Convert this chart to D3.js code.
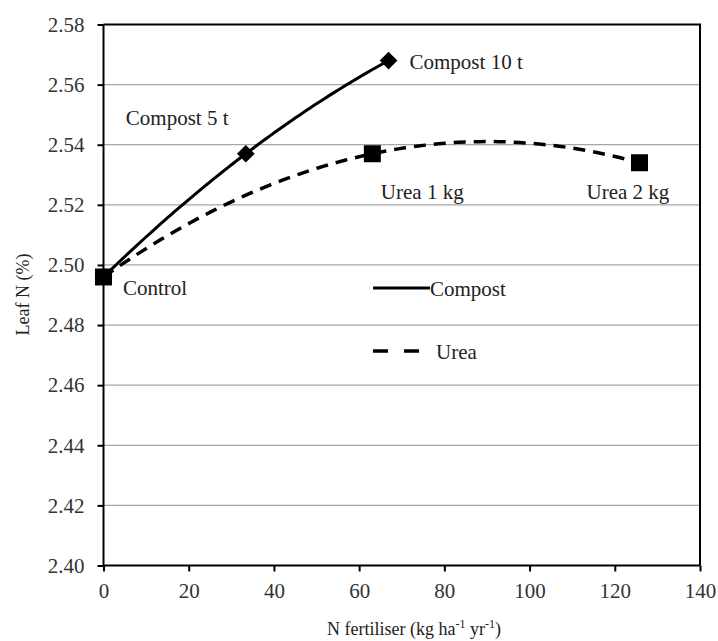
<!DOCTYPE html>
<html>
<head>
<meta charset="utf-8">
<script src="https://cdn.jsdelivr.net/npm/d3@7"></script>
<style>
  body { margin: 0; background: #fff; }
</style>
</head>
<body>
<div id="chart"></div>
<script>
// values
const compostN = [0, 33.4, 66.9];
const compostLeafN = [2.496, 2.537, 2.568];
const ureaN = [0, 63.1, 125.8];
const ureaLeafN = [2.496, 2.537, 2.534];

const compostLabels = ["", "Compost 5 t", "Compost 10 t"];
const ureaLabels = ["Control", "Urea 1 kg", "Urea 2 kg"];

const xTicks = [0, 20, 40, 60, 80, 100, 120, 140];
const yTicks = [2.40, 2.42, 2.44, 2.46, 2.48, 2.50, 2.52, 2.54, 2.56, 2.58];
const legendNames = ["Compost", "Urea"];

// label offsets from their point (px)
const compostLabelOffset = [null, [-120, -29], [21, 8]];
const ureaLabelOffset = [[19.5, 18.5], [8.5, 45], [-53, 36]];

const serif = "'Liberation Serif', 'Times New Roman', 'DejaVu Serif', serif";

const width = 718, height = 641;
const plot = { left: 103.5, right: 700, top: 24.5, bottom: 565.5 };

const svg = d3.select("#chart").append("svg")
  .attr("width", width)
  .attr("height", height)
  .attr("font-family", serif);

const x = d3.scaleLinear().domain([0, 140]).range([plot.left, plot.right]);
const y = d3.scaleLinear().domain([2.40, 2.58]).range([plot.bottom, plot.top]);

// gridlines
svg.append("g")
  .selectAll("line")
  .data(yTicks.slice(1, -1))
  .join("line")
  .attr("x1", plot.left).attr("x2", plot.right)
  .attr("y1", d => y(d)).attr("y2", d => y(d))
  .attr("stroke", "#a6a6a6")
  .attr("stroke-width", 1.2);

// plot border (top, right)
svg.append("path")
  .attr("d", `M${plot.left},${plot.top}H${plot.right}V${plot.bottom}`)
  .attr("fill", "none")
  .attr("stroke", "#000")
  .attr("stroke-width", 2);

const xAxis = d3.axisBottom(x).tickValues(xTicks).tickSize(6).tickPadding(12).tickFormat(d3.format("d"));
const yAxis = d3.axisLeft(y).tickValues(yTicks).tickSize(6).tickPadding(13).tickFormat(d3.format(".2f"));

function styleAxis(g) {
  g.attr("font-family", serif).attr("font-size", 21);
  g.selectAll(".tick line").attr("stroke-width", 2).attr("stroke", "#000");
  g.selectAll("text").style("font-family", serif).attr("fill", "#333");
}

svg.append("g")
  .attr("transform", `translate(0,${plot.bottom})`)
  .call(xAxis)
  .call(g => g.select(".domain").attr("stroke-width", 2).attr("stroke", "#000").attr("d", `M${plot.left},0H${plot.right}`))
  .call(styleAxis);

svg.append("g")
  .attr("transform", `translate(${plot.left},0)`)
  .call(yAxis)
  .call(g => g.select(".domain").attr("stroke-width", 2).attr("stroke", "#000").attr("d", `M0,${plot.top}V${plot.bottom}`))
  .call(styleAxis);

// axis titles
const xTitle = svg.append("text")
  .attr("x", 414).attr("y", 635)
  .attr("text-anchor", "middle")
  .attr("font-size", 18)
  .attr("fill", "#222")
  .style("font-family", serif);
xTitle.append("tspan").text("N fertiliser (kg ha");
xTitle.append("tspan").attr("font-size", 12).attr("dy", -7).text("-1");
xTitle.append("tspan").attr("dy", 7).text(" yr");
xTitle.append("tspan").attr("font-size", 12).attr("dy", -7).text("-1");
xTitle.append("tspan").attr("dy", 7).text(")");

svg.append("text")
  .attr("transform", "translate(29,294.5) rotate(-90)")
  .attr("text-anchor", "middle")
  .attr("font-size", 18)
  .attr("fill", "#222")
  .style("font-family", serif)
  .text("Leaf N (%)");

// 2nd order polynomial trendline (as in the original spreadsheet chart)
function polyfit2(xs, ys) {
  const n = xs.length;
  let s = [0, 0, 0, 0, 0], t = [0, 0, 0];
  for (let i = 0; i < n; i++) {
    for (let k = 0; k < 5; k++) s[k] += Math.pow(xs[i], k);
    for (let k = 0; k < 3; k++) t[k] += ys[i] * Math.pow(xs[i], k);
  }
  const m = [[s[0], s[1], s[2], t[0]], [s[1], s[2], s[3], t[1]], [s[2], s[3], s[4], t[2]]];
  for (let i = 0; i < 3; i++) {
    for (let j = i + 1; j < 3; j++) {
      const f = m[j][i] / m[i][i];
      for (let k = i; k < 4; k++) m[j][k] -= f * m[i][k];
    }
  }
  const c = [0, 0, 0];
  for (let i = 2; i >= 0; i--) {
    let v = m[i][3];
    for (let k = i + 1; k < 3; k++) v -= m[i][k] * c[k];
    c[i] = v / m[i][i];
  }
  return xv => c[0] + c[1] * xv + c[2] * xv * xv;
}

const line = d3.line().x(d => x(d[0])).y(d => y(d[1]));

function trend(xs, ys) {
  const f = polyfit2(xs, ys);
  const x0 = d3.min(xs), x1 = d3.max(xs);
  const steps = 80;
  return d3.range(steps + 1).map(i => {
    const xv = x0 + (x1 - x0) * i / steps;
    return [xv, f(xv)];
  });
}

svg.append("path")
  .attr("d", line(trend(ureaN, ureaLeafN)))
  .attr("fill", "none")
  .attr("stroke", "#000")
  .attr("stroke-width", 3.5)
  .attr("stroke-dasharray", "12,8");

svg.append("path")
  .attr("d", line(trend(compostN, compostLeafN)))
  .attr("fill", "none")
  .attr("stroke", "#000")
  .attr("stroke-width", 3);

// markers
const compostPts = compostN.map((d, i) => [d, compostLeafN[i]]);
const ureaPts = ureaN.map((d, i) => [d, ureaLeafN[i]]);

svg.append("g")
  .selectAll("path")
  .data(compostPts)
  .join("path")
  .attr("transform", d => `translate(${x(d[0])},${y(d[1])})`)
  .attr("d", d3.symbol(d3.symbolDiamond2, 200))
  .attr("fill", "#000");

svg.append("g")
  .selectAll("rect")
  .data(ureaPts)
  .join("rect")
  .attr("x", d => x(d[0]) - 8.5)
  .attr("y", d => y(d[1]) - 8.5)
  .attr("width", 17)
  .attr("height", 17)
  .attr("fill", "#000");

// point labels
function addLabels(pts, labels, offsets) {
  pts.forEach((d, i) => {
    if (!labels[i]) return;
    svg.append("text")
      .attr("x", x(d[0]) + offsets[i][0])
      .attr("y", y(d[1]) + offsets[i][1])
      .attr("font-size", 21)
      .attr("fill", "#222")
      .style("font-family", serif)
      .text(labels[i]);
  });
}
addLabels(compostPts, compostLabels, compostLabelOffset);
addLabels(ureaPts, ureaLabels, ureaLabelOffset);

// legend
const legend = svg.append("g").attr("transform", "translate(373,288)");
legendNames.forEach((name, i) => {
  const g = legend.append("g").attr("transform", `translate(0,${i * 63})`);
  g.append("line")
    .attr("x1", 0).attr("x2", i === 0 ? 57 : 46)
    .attr("y1", 0).attr("y2", 0)
    .attr("stroke", "#000")
    .attr("stroke-width", i === 0 ? 3 : 3.5)
    .attr("stroke-dasharray", i === 0 ? null : "15,16");
  g.append("text")
    .attr("x", i === 0 ? 57 : 63)
    .attr("y", 8)
    .attr("font-size", 21)
    .attr("fill", "#222")
    .style("font-family", serif)
    .text(name);
});
</script>
</body>
</html>
